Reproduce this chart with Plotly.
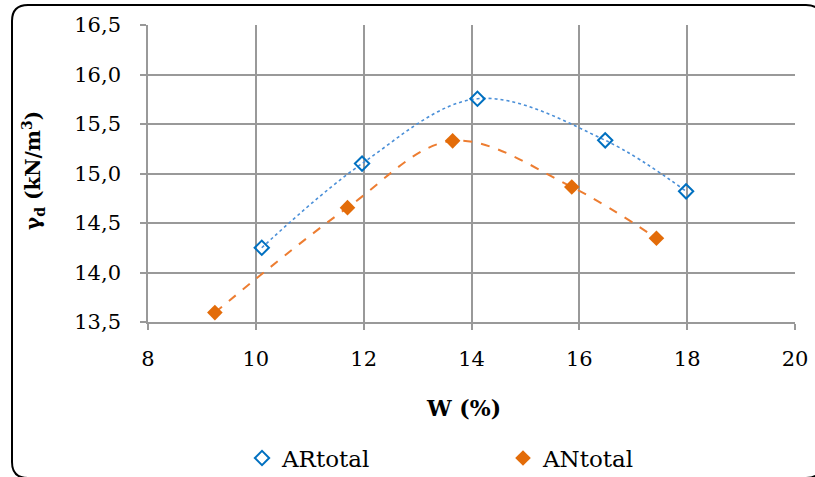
import plotly.graph_objects as go

# Moisture content W (%) and dry unit weight (kN/m3)
w_ar = [10.11, 11.97, 14.11, 16.48, 17.98]
g_ar = [14.25, 15.10, 15.755, 15.335, 14.82]
w_an = [9.24, 11.70, 13.65, 15.86, 17.43]
g_an = [13.595, 14.655, 15.33, 14.863, 14.346]

x_ticks = [8, 10, 12, 14, 16, 18, 20]
y_ticks = [13.5, 14.0, 14.5, 15.0, 15.5, 16.0, 16.5]

W, H = 815, 477
L, R, T, B = 148, 20, 25, 155
PW, PH = W - L - R, H - T - B

FONT = "DejaVu Serif"
BLUE = "#0070C0"
BLUE_LINE = "#4A8FD8"
ORANGE = "#E36C09"
ORANGE_LINE = "#ED7D31"
GRID = "#999999"


def px(x):
    return (x - L) / PW


def py(y):
    return (H - B - y) / PH


fig = go.Figure()

# Smoothed curves through the measured points
fig.add_trace(go.Scatter(x=w_ar, y=g_ar, mode="lines", showlegend=False, hoverinfo="skip",
                         line=dict(color=BLUE_LINE, width=1.6, dash="dot",
                                   shape="spline", smoothing=1.0)))
fig.add_trace(go.Scatter(x=w_an, y=g_an, mode="lines", showlegend=False, hoverinfo="skip",
                         line=dict(color=ORANGE_LINE, width=2, dash="dash",
                                   shape="spline", smoothing=1.0)))

fig.add_trace(go.Scatter(x=w_ar, y=g_ar, mode="markers", name="ARtotal", legend="legend",
                         marker=dict(symbol="diamond-open", size=11, color=BLUE,
                                     line=dict(color=BLUE, width=2))))
fig.add_trace(go.Scatter(x=w_an, y=g_an, mode="markers", name="ANtotal", legend="legend2",
                         marker=dict(symbol="diamond", size=12, color=ORANGE,
                                     line=dict(color=ORANGE, width=0))))

axis_common = dict(showgrid=True, gridcolor=GRID, gridwidth=1.6,
                   showline=True, linecolor=GRID, linewidth=1.6,
                   ticks="outside", ticklen=6, tickcolor=GRID, tickwidth=1.6,
                   tickfont=dict(family=FONT, size=21, color="black"),
                   zeroline=False, mirror=False)

fig.update_xaxes(range=[8, 20], tickvals=x_ticks, ticktext=[str(v) for v in x_ticks],
                 ticklabelstandoff=11, **axis_common)
fig.update_yaxes(range=[13.5, 16.5], tickvals=y_ticks,
                 ticktext=[f"{v:.1f}".replace(".", ",") for v in y_ticks],
                 ticklabelstandoff=15, **axis_common)

legend_common = dict(orientation="h", yanchor="middle", xanchor="left",
                     font=dict(family=FONT, size=23, color="black"),
                     bgcolor="rgba(0,0,0,0)", itemwidth=30)

# Rounded outer frame
x0, x1, y0, y1, r = 12, 822, 5, 478, 16
frame = (f"M {px(x0)},{py(y0 + r)} Q {px(x0)},{py(y0)} {px(x0 + r)},{py(y0)} "
         f"L {px(x1 - r)},{py(y0)} Q {px(x1)},{py(y0)} {px(x1)},{py(y0 + r)} "
         f"L {px(x1)},{py(y1 - r)} Q {px(x1)},{py(y1)} {px(x1 - r)},{py(y1)} "
         f"L {px(x0 + r)},{py(y1)} Q {px(x0)},{py(y1)} {px(x0)},{py(y1 - r)} Z")

fig.update_layout(
    width=W, height=H,
    margin=dict(l=L, r=R, t=T, b=B, autoexpand=False),
    paper_bgcolor="white", plot_bgcolor="white",
    showlegend=True,
    legend=dict(x=px(242), y=py(458), **legend_common),
    legend2=dict(x=px(503), y=py(458), **legend_common),
    shapes=[dict(type="path", xref="paper", yref="paper", path=frame,
                 line=dict(color="black", width=2), layer="below")],
    annotations=[
        dict(text="<b>W (%)</b>", xref="paper", yref="paper", x=px(463), y=py(408),
             showarrow=False, xanchor="center", yanchor="middle",
             font=dict(family=FONT, size=22, color="black")),
        dict(text="<b>γ<sub>d</sub> (kN/m<sup>3</sup>)</b>", xref="paper", yref="paper",
             x=px(33), y=py(171), textangle=-90, showarrow=False,
             xanchor="center", yanchor="middle",
             font=dict(family=FONT, size=20, color="black")),
    ],
)

fig.write_html("out.html")
